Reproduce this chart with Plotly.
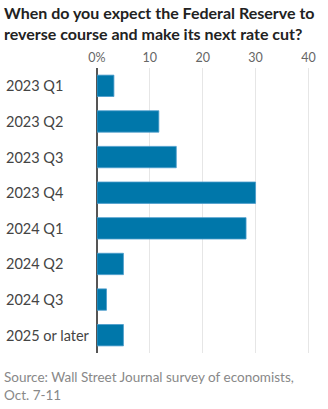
import plotly.graph_objects as go

categories = ["2023 Q1", "2023 Q2", "2023 Q3", "2023 Q4", "2024 Q1", "2024 Q2", "2024 Q3", "2025 or later"]
values = [3.2, 11.7, 15.0, 30.0, 28.2, 5.0, 1.8, 5.0]
tick_vals = [0, 10, 20, 30, 40]
tick_text = ["0%", "10", "20", "30", "40"]

fig = go.Figure(go.Bar(
    x=values, y=categories, orientation="h",
    marker=dict(color="#0077AA", line=dict(color="#4a9ccb", width=0.8)),
    width=0.6,
))

annotations = [
    dict(text="When do you expect the Federal Reserve to<br>reverse course and make its next rate cut?",
         xref="paper", yref="paper", x=0, y=1, xanchor="left", yanchor="top",
         xshift=-95, yshift=67, align="left", showarrow=False,
         font=dict(size=16, color="#222", family="Lato, sans-serif", weight="bold")),
    dict(text="Source: Wall Street Journal survey of economists,<br>Oct. 7-11",
         xref="paper", yref="paper", x=0, y=0, xanchor="left", yanchor="top",
         xshift=-95, yshift=-14, align="left", showarrow=False,
         font=dict(size=13.5, color="#888", family="Lato, sans-serif")),
]
for c in categories:
    annotations.append(dict(
        text=c, xref="paper", yref="y", x=0, y=c, xanchor="left", yanchor="middle",
        xshift=-93, showarrow=False, font=dict(size=14.5, color="#444", family="Lato, sans-serif")))

fig.update_layout(
    width=328, height=409,
    margin=dict(l=97, r=12, t=68, b=56),
    paper_bgcolor="white", plot_bgcolor="white",
    showlegend=False,
    font=dict(family="Lato, sans-serif"),
    annotations=annotations,
)
fig.update_xaxes(
    side="top", range=[0, 40.3], tickvals=tick_vals, ticktext=tick_text,
    showgrid=True, gridcolor="#e6e6e6", gridwidth=1,
    zeroline=True, zerolinecolor="#555", zerolinewidth=1.5,
    tickfont=dict(size=12.5, color="#666"), ticks="", ticklabelstandoff=3,
    showline=False, fixedrange=True,
)
fig.update_yaxes(
    autorange=False, range=[7.5, -0.5], categoryorder="array", categoryarray=categories,
    showticklabels=False, ticks="",
    showgrid=False, showline=False,
)

fig.write_html("out.html")
